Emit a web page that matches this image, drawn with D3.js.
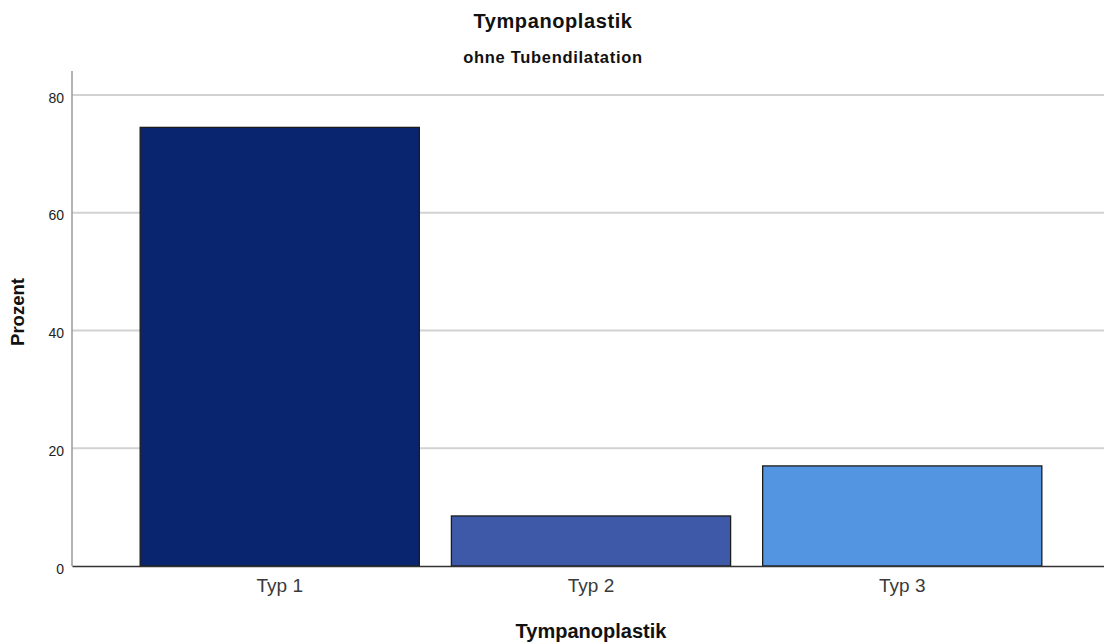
<!DOCTYPE html>
<html>
<head>
<meta charset="utf-8">
<script src="https://cdn.jsdelivr.net/npm/d3@7"></script>
<style>
  html, body { margin: 0; padding: 0; background: #fff; }
  svg { display: block; }
</style>
</head>
<body>
<svg id="chart" width="1104" height="644"></svg>
<script>
const categories = ["Typ 1", "Typ 2", "Typ 3"];
const values = [74.5, 8.5, 17.0];
const colors = ["#0a2570", "#3e59a7", "#5495e2"];
const yTicks = [0, 20, 40, 60, 80];
const titleText = "Tympanoplastik";
const subtitleText = "ohne Tubendilatation";
const xTitle = "Tympanoplastik";
const yTitle = "Prozent";

const svg = d3.select("#chart");
const W = 1104, H = 644;
const plot = { left: 72, right: 1110, top: 71, bottom: 566 };

const x = d3.scaleBand()
  .domain(categories)
  .range([plot.left, plot.right])
  .paddingInner(0.103)
  .paddingOuter(0.219);

const y = d3.scaleLinear()
  .domain([0, 80])
  .range([plot.bottom, 95]);

// gridlines
svg.append("g")
  .selectAll("line")
  .data(yTicks.filter(d => d > 0))
  .join("line")
  .attr("x1", plot.left).attr("x2", plot.right)
  .attr("y1", d => y(d)).attr("y2", d => y(d))
  .attr("stroke", "#d2d2d2").attr("stroke-width", 2);

// y axis
const yAxis = d3.axisLeft(y).tickValues(yTicks).tickSize(0).tickPadding(8);
const gy = svg.append("g")
  .attr("transform", `translate(${plot.left},0)`)
  .call(yAxis);
gy.select(".domain").remove();
gy.selectAll("text")
  .attr("font-family", "'Liberation Sans', Arial, sans-serif")
  .attr("font-size", 14)
  .attr("fill", "#222")
  .attr("dy", "0.5em");
svg.append("line")
  .attr("x1", plot.left).attr("x2", plot.left)
  .attr("y1", plot.top).attr("y2", plot.bottom)
  .attr("stroke", "#9a9a9a").attr("stroke-width", 1.5);

// bars
svg.append("g")
  .selectAll("rect")
  .data(categories)
  .join("rect")
  .attr("x", d => x(d))
  .attr("width", x.bandwidth())
  .attr("y", (d, i) => y(values[i]))
  .attr("height", (d, i) => y(0) - y(values[i]))
  .attr("fill", (d, i) => colors[i])
  .attr("stroke", "#1c1c1c")
  .attr("stroke-width", 1.3);

// x axis
const xAxis = d3.axisBottom(x).tickSize(0).tickPadding(13);
const gx = svg.append("g")
  .attr("transform", `translate(0,${plot.bottom})`)
  .call(xAxis);
gx.select(".domain")
  .attr("stroke", "#333").attr("stroke-width", 1.3);
gx.selectAll("text")
  .attr("font-family", "'Liberation Sans', Arial, sans-serif")
  .attr("font-size", 19)
  .attr("fill", "#3a3a3a");

// titles
svg.append("text")
  .attr("x", 553).attr("y", 28)
  .attr("text-anchor", "middle")
  .attr("font-family", "'Liberation Sans', Arial, sans-serif")
  .attr("font-weight", "bold")
  .attr("font-size", 20)
  .attr("letter-spacing", 0.6)
  .attr("fill", "#111")
  .text(titleText);

svg.append("text")
  .attr("x", 553).attr("y", 63)
  .attr("text-anchor", "middle")
  .attr("font-family", "'Liberation Sans', Arial, sans-serif")
  .attr("font-weight", "bold")
  .attr("font-size", 16.5)
  .attr("letter-spacing", 0.7)
  .attr("fill", "#111")
  .text(subtitleText);

svg.append("text")
  .attr("x", (plot.left + plot.right) / 2).attr("y", 638)
  .attr("text-anchor", "middle")
  .attr("font-family", "'Liberation Sans', Arial, sans-serif")
  .attr("font-weight", "bold")
  .attr("font-size", 20)
  .attr("fill", "#111")
  .text(xTitle);

svg.append("text")
  .attr("transform", "translate(24,312) rotate(-90)")
  .attr("text-anchor", "middle")
  .attr("font-family", "'Liberation Sans', Arial, sans-serif")
  .attr("font-weight", "bold")
  .attr("font-size", 18.5)
  .attr("fill", "#111")
  .text(yTitle);
</script>
</body>
</html>
